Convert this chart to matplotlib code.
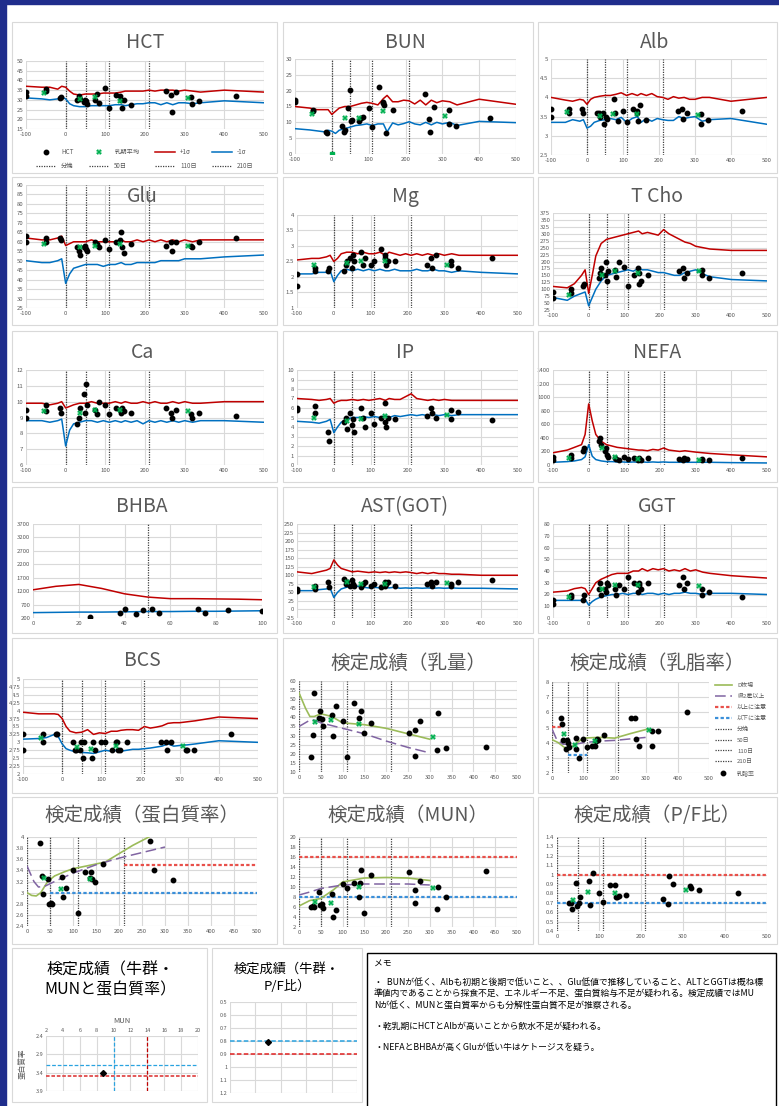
import numpy as np
import matplotlib
matplotlib.use("Agg")
import matplotlib.pyplot as plt
from matplotlib.patches import Rectangle
from matplotlib.lines import Line2D

plt.rcParams['font.family'] = ['Noto Sans CJK JP', 'DejaVu Sans']

W, H = 779, 1106
GRAY = '#595959'
GRID = '#d9d9d9'
RED = '#c00000'
BLUE = '#0070c0'
GREEN = '#00b050'

# days in milk of each blood sample (shared by the blood panels)
dim = [-100, -100, -50, -50, -15, -12, 28, 33, 35, 45, 48, 52, 55, 75, 78, 85,
       100, 110, 127, 138, 140, 142, 148, 165, 253, 265, 267, 277, 317, 318, 337, 430]
avg_day = [-55, 37, 73, 138, 308]
# days of the reference (+1σ / -1σ) curves
ref_day = [-100, -60, -40, -20, -10, 0, 10, 20, 35, 50, 65, 80, 95, 110, 125, 140, 150,
           165, 180, 195, 210, 225, 240, 255, 270, 285, 300, 320, 340, 400, 500]
milestones = [0, 50, 110, 210]

hct = [34, 32, 35.5, 34.8, 31, 31.5, 30, 32, 30.5, 29, 30, 29.5, 28, 30, 33, 28.5,
       36, 26, 32.5, 32, 30, 26, 30, 27.5, 34.5, 32.5, 24, 34, 31.5, 28, 29.5, 32]
hct_avg = [33.5, 30.5, 31.5, 29.5, 31]
hct_hi = [37, 36.5, 36.5, 35.5, 37, 36.5, 34.5, 33, 32.5, 33, 33, 33, 33.5, 33.5, 33.5, 34,
          34.5, 34.5, 34.5, 34.5, 35, 34.5, 35, 35, 35, 34.5, 35, 34.5, 34, 35, 34]
hct_lo = [31, 30.5, 30, 30.5, 31.5, 30.5, 28, 27, 26.5, 26.5, 27, 27, 27, 27, 27.5, 27.5,
          27, 27.5, 28, 28, 28.5, 28.5, 27.5, 28.5, 27.5, 28.5, 28.5, 28, 28.5, 29.5, 28.5]

bun = [17, 16.5, 13.5, 14, 7, 6.5, 9, 7, 7.5, 14.5, 20.3, 10.3, 10.8, 10.5, 11.5, 11.8,
       14.5, 8.5, 21.2, 16.5, 16, 15.5, 6.5, 13.8, 18.8, 11, 7, 14.8, 13.8, 9.5, 9, 11.5]
bun_avg = [12.5, 11.5, 11.5, 13.5, 12]
bun_hi = [15, 14.5, 14, 14, 14, 12.5, 13.5, 14.5, 15, 15, 15.5, 16, 16.3, 16, 15.5, 17.5,
          18.5, 16.5, 16.5, 17, 16.8, 15.8, 17, 15.5, 17, 16.2, 16.8, 16.5, 15.5, 17.3, 15.7]
bun_lo = [8, 7.6, 7.3, 7, 7.5, 7.2, 6.5, 7.5, 8, 8.5, 9, 9.2, 9.5, 9, 9.5, 9.5,
          7, 9.8, 9.2, 9.6, 10.2, 9.5, 9.2, 10, 9.2, 10, 9.5, 10, 9, 10.3, 9.9]

alb = [3.7, 3.5, 3.7, 3.6, 3.7, 3.6, 3.6, 3.6, 3.5, 3.6, 3.3, 3.5, 3.45, 3.95, 3.6, 3.38,
       3.65, 3.35, 3.7, 3.65, 3.6, 3.38, 3.8, 3.42, 3.65, 3.7, 3.45, 3.6, 3.58, 3.3, 3.42, 3.65]
alb_avg = [3.62, 3.52, 3.58, 3.58, 3.55]
alb_hi = [4.0, 3.93, 3.9, 3.95, 3.93, 3.82, 3.95, 4.0, 4.03, 4.05, 4.05, 4.08, 4.12, 4.05, 4.1, 4.05,
          4.1, 4.05, 4.1, 4.02, 4.0, 3.95, 4.02, 3.98, 4.0, 3.95, 3.95, 4.0, 4.0, 3.9, 4.0]
alb_lo = [3.35, 3.35, 3.42, 3.38, 3.42, 3.2, 3.25, 3.35, 3.4, 3.42, 3.45, 3.42, 3.48, 3.35, 3.45, 3.5,
          3.35, 3.45, 3.38, 3.45, 3.42, 3.4, 3.4, 3.5, 3.45, 3.48, 3.5, 3.38, 3.42, 3.45, 3.3]

glu = [63, 60, 62, 60, 62, 61, 57, 55, 53, 57, 58, 56, 55, 60, 59, 57,
       61, 56, 60, 61, 65, 57, 54, 59, 58, 60, 55, 60, 58, 57, 60, 62]
glu_avg = [59, 57, 58, 59, 58]
glu_hi = [62, 61, 61, 62, 63, 58, 59, 60, 60, 60, 61, 60, 60, 60, 60, 61,
          60, 60, 61, 60, 61, 60, 61, 60, 61, 60, 61, 60, 61, 61, 61]
glu_lo = [50, 49, 49, 50, 51, 38, 43, 46, 47, 48, 48, 48, 47, 48, 48, 49,
          48, 48, 49, 49, 49, 49, 50, 50, 50, 50, 51, 51, 51, 52, 53]

mg = [1.7, 2.1, 2.2, 2.3, 2.2, 2.3, 2.2, 2.4, 2.5, 2.6, 2.3, 2.7, 2.5, 2.8, 2.4, 2.6,
      2.4, 2.5, 2.9, 2.7, 2.6, 2.4, 2.5, 2.5, 2.4, 2.6, 2.3, 2.7, 2.4, 2.5, 2.3, 2.6]
mg_avg = [2.4, 2.45, 2.5, 2.5, 2.4]
mg_hi = [2.55, 2.6, 2.6, 2.65, 2.7, 2.5, 2.6, 2.75, 2.8, 2.8, 2.75, 2.8, 2.75, 2.75, 2.8, 2.7,
         2.8, 2.75, 2.7, 2.75, 2.7, 2.75, 2.7, 2.75, 2.7, 2.75, 2.7, 2.75, 2.7, 2.7, 2.7]
mg_lo = [2.1, 2.1, 2.15, 2.15, 2.2, 1.85, 2.05, 2.2, 2.25, 2.2, 2.25, 2.2, 2.25, 2.2, 2.25, 2.2,
         2.2, 2.25, 2.2, 2.2, 2.2, 2.25, 2.2, 2.2, 2.25, 2.2, 2.2, 2.15, 2.2, 2.15, 2.1]

tcho = [90, 70, 85, 100, 110, 120, 140, 160, 175, 150, 200, 130, 165, 170, 145, 200,
        180, 110, 150, 175, 160, 120, 130, 150, 165, 175, 140, 160, 170, 150, 140, 160]
tcho_avg = [80, 150, 165, 160, 165]
tcho_hi = [110, 105, 120, 150, 170, 85, 150, 220, 265, 280, 285, 290, 295, 300, 305, 310,
           300, 305, 300, 295, 315, 300, 290, 280, 270, 265, 255, 250, 245, 240, 240]
tcho_lo = [70, 60, 75, 85, 90, 40, 70, 100, 130, 150, 155, 160, 165, 170, 165, 175,
           170, 170, 165, 160, 160, 155, 150, 150, 160, 165, 170, 155, 145, 135, 130]

ca = [9.5, 9.0, 9.8, 9.4, 9.6, 9.3, 8.6, 9.0, 9.6, 10.5, 9.3, 11.1, 9.8, 9.5, 9.2, 10.0,
      9.8, 9.2, 9.6, 9.5, 9.3, 9.6, 9.4, 9.3, 9.6, 9.3, 9.0, 9.5, 9.2, 9.0, 9.3, 9.1]
ca_avg = [9.4, 9.3, 9.5, 9.5, 9.4]
ca_hi = [9.9, 9.9, 9.8, 9.9, 10, 9.6, 9.7, 9.8, 9.9, 9.9, 10, 9.9, 9.9, 9.9, 10, 9.9,
         10, 9.9, 9.9, 10, 9.9, 10, 9.9, 9.9, 10, 9.9, 10, 9.9, 9.9, 10, 10]
ca_lo = [8.8, 8.8, 8.7, 8.8, 8.9, 7.2, 8.2, 8.6, 8.7, 8.8, 8.8, 8.7, 8.8, 8.7, 8.8, 8.7,
         8.8, 8.7, 8.8, 8.6, 8.8, 8.7, 8.8, 8.7, 8.8, 8.7, 8.8, 8.7, 8.8, 8.8, 8.7]

ip = [6.0, 5.8, 5.5, 6.2, 3.5, 2.5, 4.5, 5.0, 3.8, 5.5, 4.2, 4.8, 3.5, 6.0, 5.0, 4.0,
      5.5, 4.3, 5.0, 4.5, 6.5, 4.0, 5.0, 4.8, 5.2, 6.0, 5.5, 5.0, 5.8, 4.8, 5.6, 4.7]
ip_avg = [5.0, 4.6, 4.8, 5.2, 5.3]
ip_hi = [7.0, 6.9, 6.8, 6.9, 7.0, 6.5, 6.7, 6.8, 6.8, 6.9, 6.8, 6.9, 6.8, 6.9, 7.0, 6.8,
         7.0, 6.9, 6.9, 7.2, 7.5, 7.0, 6.9, 6.8, 6.9, 6.8, 6.9, 6.8, 6.8, 6.8, 6.8]
ip_lo = [4.6, 4.5, 4.4, 4.6, 4.8, 3.4, 4.0, 4.5, 4.8, 5.0, 5.0, 5.1, 5.0, 5.1, 5.0, 5.2,
         5.0, 5.2, 5.1, 5.2, 5.3, 5.2, 5.3, 5.2, 5.3, 5.2, 5.3, 5.2, 5.3, 5.3, 5.3]

nefa = [120, 80, 100, 150, 200, 250, 350, 400, 300, 200, 250, 150, 120, 100, 90, 80,
        120, 90, 100, 80, 100, 90, 80, 100, 90, 80, 100, 90, 80, 90, 80, 100]
nefa_avg = [100, 250, 120, 90, 80]
nefa_hi = [180, 220, 260, 300, 450, 900, 650, 450, 350, 300, 280, 260, 250, 240, 230, 220,
           220, 210, 230, 220, 250, 220, 210, 200, 210, 200, 190, 180, 170, 150, 120]
nefa_lo = [40, 50, 60, 80, 120, 300, 130, 80, 60, 50, 50, 45, 45, 40, 45, 40,
           45, 40, 45, 40, 45, 40, 40, 40, 40, 40, 40, 40, 40, 35, 30]

ast = [60, 55, 60, 70, 80, 65, 90, 75, 80, 70, 85, 75, 70, 65, 75, 80,
       70, 75, 65, 80, 70, 75, 80, 70, 75, 80, 70, 80, 70, 75, 80, 85]
ast_avg = [65, 80, 75, 75, 78]
ast_hi = [110, 105, 110, 115, 120, 145, 130, 120, 115, 110, 112, 110, 108, 110, 108, 110,
          108, 110, 108, 110, 108, 105, 108, 105, 108, 105, 105, 103, 103, 100, 100]
ast_lo = [55, 55, 58, 60, 62, 35, 50, 60, 65, 70, 68, 65, 63, 65, 63, 65,
          63, 65, 62, 63, 62, 63, 62, 63, 62, 63, 62, 63, 62, 62, 60]

ggt = [15, 12, 20, 18, 15, 20, 25, 30, 20, 25, 22, 30, 28, 25, 20, 28,
       25, 35, 30, 22, 30, 28, 25, 30, 28, 35, 25, 30, 20, 25, 22, 18]
ggt_avg = [18, 25, 28, 28, 27]
ggt_hi = [22, 23, 25, 26, 25, 20, 25, 30, 33, 35, 37, 38, 38, 38, 40, 40,
          42, 40, 42, 41, 42, 40, 41, 40, 42, 40, 41, 39, 38, 36, 34]
ggt_lo = [15, 15, 15, 15, 16, 11, 14, 16, 18, 19, 20, 20, 21, 20, 21, 21,
          20, 21, 21, 20, 21, 20, 21, 21, 22, 21, 21, 20, 21, 21, 20]

bcs = [3.25, 2.75, 3.25, 3.0, 3.25, 3.25, 3.0, 2.75, 2.75, 2.75, 3.0, 2.5, 3.0, 2.5, 3.0, 2.75,
       3.0, 3.0, 2.75, 3.0, 3.0, 2.75, 2.75, 3.0, 3.0, 3.0, 2.75, 3.0, 2.75, 2.75, 2.75, 3.25]
bcs_avg = [3.15, 2.85, 2.8, 2.9, 2.9]
bcs_hi = [3.95, 3.9, 3.9, 3.9, 3.88, 3.75, 3.5, 3.35, 3.3, 3.32, 3.4, 3.25, 3.3, 3.28, 3.35, 3.35,
          3.38, 3.4, 3.4, 3.38, 3.5, 3.45, 3.48, 3.52, 3.6, 3.62, 3.62, 3.65, 3.68, 3.8, 3.75]
bcs_lo = [3.1, 3.12, 3.15, 3.25, 3.18, 2.95, 2.8, 2.75, 2.7, 2.68, 2.67, 2.65, 2.7, 2.75, 2.72, 2.75,
          2.72, 2.75, 2.78, 2.78, 2.8, 2.82, 2.85, 2.88, 2.95, 2.88, 2.9, 2.92, 2.95, 3.05, 3.0]

# BHBA is plotted on its own 0-100 day axis
bhba_day = [25, 38, 40, 45, 48, 52, 55, 72, 75, 85, 100]
bhba = [250, 400, 550, 350, 500, 550, 400, 550, 400, 500, 450]
bhba_ref_day = [0, 10, 20, 30, 40, 50, 60, 70, 80, 90, 100]
bhba_hi = [1250, 1380, 1450, 1300, 1100, 980, 920, 920, 910, 900, 880]
bhba_lo = [400, 410, 420, 420, 430, 440, 440, 450, 450, 460, 470]

# monthly milk test (days in milk)
test_day = [28, 33, 35, 45, 48, 52, 55, 75, 78, 85, 100, 110, 127, 138, 140, 142, 148, 165,
            253, 265, 267, 277, 317, 318, 337, 430]
test_avg_day = [37, 73, 138, 308]
nan = np.nan
milk = [18.5, 30.5, 53.5, 39.5, 43.5, 39, 35.5, 41.5, 30, 46, 38, 18, 48, 39.5, nan, 43.5, 31.5, 37,
        31.5, 19, 33, 38, 22, 42.5, 23, 23.5]
milk_avg = [37.5, 38.5, 36.5, 29.5]
fat = [5.6, 5.2, 4.2, 3.55, 4.2, 4.0, 3.7, 3.55, 4.3, 3.0, 4.25, 3.7, 3.8, 3.75, 4.1, 4.25, 4.15, 4.5,
       5.6, 5.65, 4.25, 3.8, 4.8, 3.8, 4.8, 6.05]
fat_avg = [4.6, 3.85, 4.1, 4.85]
protein = [3.9, 3.3, 2.98, 3.24, 2.8, 2.82, 2.8, 3.28, 2.92, 3.08, 3.4, 2.64, 3.37, 3.27, 3.37, 3.25,
           3.2, 3.52, nan, nan, 3.92, 3.4, 3.23, nan, nan, nan]
protein_avg = [3.26, 3.06, 3.24, nan]
mun = [6.1, 6.3, 6.1, 9.0, 6.5, 6.6, 5.8, 8.6, 4.1, 5.4, 10.7, 9.8, 10.8, 8.1, 10.9, 13.4, 4.9, 12.4,
       13.1, 6.8, 9.4, 11.3, 5.7, 10.1, 8.1, 13.2]
mun_avg = [7.0, 6.9, 10.1, 9.8]
pf = [0.7, 0.7, 0.63, 0.91, 0.67, 0.7, 0.76, 0.93, 0.68, 1.02, 0.8, 0.71, 0.89, 0.89, 0.76, 0.76,
      0.77, 0.78, 0.74, 0.69, 0.98, 0.9, 0.88, 0.86, 0.84, 0.8]
pf_avg = [0.73, 0.82, 0.8, 0.84]

# lactation curves: farm (D牧場) and prefecture 2nd+ parity (県2産以上)
milk_farm_day = [0, 15, 25, 35, 50, 75, 100, 150, 200, 250, 300]
milk_farm = [53.5, 45, 40.5, 40.5, 42, 40.5, 37, 36, 34, 31, 28]
milk_pref_day = [0, 25, 35, 50, 100, 150, 200, 250, 300]
milk_pref = [35, 38.5, 38.5, 37, 34, 31, 27, 23.5, 20.5]
fat_farm_day = [0, 20, 45, 55, 80, 100, 150, 200, 250, 305]
fat_farm = [4.2, 4.0, 3.6, 3.6, 4.0, 4.3, 4.35, 4.3, 4.6, 4.9]
fat_pref_day = [0, 15, 35, 75, 100, 150, 200, 250, 300]
fat_pref = [4.9, 4.2, 3.9, 3.9, 4.0, 4.1, 4.15, 4.25, 4.35]
prot_farm_day = [0, 10, 20, 30, 45, 60, 80, 100, 130, 170, 200, 230, 265]
prot_farm = [3.0, 2.95, 2.94, 3.0, 3.2, 3.3, 3.37, 3.43, 3.48, 3.55, 3.7, 3.85, 4.0]
prot_pref_day = [0, 15, 25, 40, 60, 100, 150, 200, 250, 300]
prot_pref = [3.48, 3.2, 3.1, 3.12, 3.2, 3.35, 3.5, 3.62, 3.72, 3.82]
mun_farm_day = [0, 25, 50, 80, 100, 150, 200, 250, 300]
mun_farm = [6.2, 7.3, 7.7, 9.5, 11, 11.8, 11.9, 11.8, 11.3]
mun_pref_day = [0, 25, 50, 100, 150, 200, 250, 300]
mun_pref = [8.4, 9, 9.7, 10.4, 10.6, 10.6, 10.6, 10.4]

# herd averages
herd_mun, herd_protein = 8.7, 3.42
herd_pf = 0.81

fig = plt.figure(figsize=(W / 100, H / 100), dpi=100)
fig.patch.set_facecolor('white')


def px_axes(x0, y0, x1, y1):
    return fig.add_axes([x0 / W, 1 - y1 / H, (x1 - x0) / W, (y1 - y0) / H])


def box(x0, y0, x1, y1, color=GRID, lw=0.8):
    fig.patches.append(Rectangle((x0 / W, 1 - y1 / H), (x1 - x0) / W, (y1 - y0) / H,
                                 transform=fig.transFigure, fill=False, edgecolor=color, lw=lw))


def title(xc, y, text, size=14, color=GRAY):
    fig.text(xc / W, 1 - y / H, text, ha='center', va='center', fontsize=size, color=color)


def excel_axes(ax, xlim, xticks, ylim, yticks, fs=4.3):
    ax.set_xlim(*xlim)
    ax.set_ylim(*ylim)
    ax.set_xticks(xticks)
    ax.set_yticks(yticks)
    ax.set_xticklabels([f'{t:g}' for t in xticks])
    ax.set_yticklabels([f'{t:g}' for t in yticks])
    for s in ax.spines.values():
        s.set_visible(False)
    ax.grid(True, color=GRID, lw=0.8)
    ax.set_axisbelow(True)
    ax.tick_params(length=0, labelsize=fs, labelcolor=GRAY, pad=2)
    ax.patch.set_alpha(0)


def milestone_lines(ax):
    for d in milestones:
        ax.axvline(d, color='#404040', ls=(0, (1, 1)), lw=0.9, zorder=2)


def blood_panel(px, ylim, ystep, pts, avg, hi, lo, extra=None):
    ax = px_axes(*px)
    yt = np.arange(ylim[0], ylim[1] + ystep / 2, ystep)
    excel_axes(ax, (-100, 500), range(-100, 501, 100), ylim, yt)
    milestone_lines(ax)
    ax.plot(ref_day, hi, color=RED, lw=1.1, zorder=3)
    ax.plot(ref_day, lo, color=BLUE, lw=1.1, zorder=3)
    ax.plot(dim, pts, 'o', color='black', ms=3.2, zorder=4)
    ax.plot(avg_day, avg, 'X', color=GREEN, ms=4, mew=0, zorder=5)
    if extra is not None:
        ax.plot(*extra, 's', color=GREEN, ms=3, zorder=5)
    return ax


# frame of the sheet
fig.patches.append(Rectangle((0, 0), 6 / W, 1, transform=fig.transFigure, color='#1f2d8c'))
fig.patches.append(Rectangle((0, 1 - 4 / H), 1, 4 / H, transform=fig.transFigure, color='#1f2d8c'))

cols = [(12, 277), (283, 533), (538, 777)]
rows = [(22, 173), (177, 325), (331, 482), (487, 633), (638, 793), (797, 944)]
for r in rows:
    for c in cols:
        box(c[0], r[0], c[1], r[1])
box(12, 948, 207, 1102)
box(212, 948, 362, 1102)

# row 1
ax = blood_panel((26, 61, 264, 129), (15, 50), 5, hct, hct_avg, hct_hi, hct_lo)
title(145, 43, 'HCT')
handles = [
    Line2D([], [], ls='none', marker='o', color='black', ms=3.2),
    Line2D([], [], color='#404040', ls=(0, (1, 1)), lw=0.9),
    Line2D([], [], ls='none', marker='X', color=GREEN, ms=4, mew=0),
    Line2D([], [], color='#404040', ls=(0, (1, 1)), lw=0.9),
    Line2D([], [], color=RED, lw=1.1),
    Line2D([], [], color='#404040', ls=(0, (1, 1)), lw=0.9),
    Line2D([], [], color=BLUE, lw=1.1),
    Line2D([], [], color='#404040', ls=(0, (1, 1)), lw=0.9),
]
labels = ['HCT', '分娩', '乳期平均', '50日', '+1σ', '110日', '-1σ', '210日']
leg = ax.legend(handles, labels, ncol=4, loc='upper center', bbox_to_anchor=(0.5, -0.2),
                frameon=False, fontsize=4.5, handlelength=3.2, columnspacing=2.5,
                labelspacing=0.9)
for t in leg.get_texts():
    t.set_color(GRAY)

blood_panel((295, 59, 516, 154), (0, 30), 5, bun, bun_avg, bun_hi, bun_lo, extra=([0], [0]))
title(405, 42, 'BUN')
blood_panel((551, 59, 767, 155), (2.5, 5), 0.5, alb, alb_avg, alb_hi, alb_lo)
title(655, 42, 'Alb')

# row 2
blood_panel((26, 185, 264, 308), (25, 90), 5, glu, glu_avg, glu_hi, glu_lo)
title(142, 196, 'Glu')
blood_panel((297, 215, 518, 308), (1, 4), 0.5, mg, mg_avg, mg_hi, mg_lo)
title(405, 196, 'Mg')
blood_panel((553, 213, 767, 310), (25, 375), 25, tcho, tcho_avg, tcho_hi, tcho_lo)
title(657, 196, 'T Cho')

# row 3
blood_panel((26, 370, 264, 465), (6, 12), 1, ca, ca_avg, ca_hi, ca_lo)
title(142, 352, 'Ca')
blood_panel((297, 370, 518, 465), (0, 10), 1, ip, ip_avg, ip_hi, ip_lo)
title(405, 352, 'IP')
blood_panel((553, 370, 767, 465), (0, 1400), 200, nefa, nefa_avg, nefa_hi, nefa_lo)
title(657, 352, 'NEFA')

# row 4
ax = px_axes(33, 524, 262, 618)
excel_axes(ax, (0, 100), range(0, 101, 20), (200, 3700), range(200, 3701, 500))
ax.axvline(50, color='#404040', ls=(0, (1, 1)), lw=0.9)
ax.plot(bhba_ref_day, bhba_hi, color=RED, lw=1.1)
ax.plot(bhba_ref_day, bhba_lo, color=BLUE, lw=1.1)
ax.plot(bhba_day, bhba, 'o', color='black', ms=3.2)
title(142, 507, 'BHBA')
blood_panel((297, 524, 518, 618), (-25, 250), 25, ast, ast_avg, ast_hi, ast_lo)
title(405, 507, 'AST(GOT)')
blood_panel((553, 524, 767, 618), (0, 80), 10, ggt, ggt_avg, ggt_hi, ggt_lo)
title(657, 507, 'GGT')

# row 5
blood_panel((23, 679, 258, 774), (2, 5), 0.25, bcs, bcs_avg, bcs_hi, bcs_lo)
title(142, 660, 'BCS')


def test_panel(px, xstep, ylim, ystep, pts, avg, farm=None, pref=None, hi=None, lo=None):
    ax = px_axes(*px)
    yt = np.arange(ylim[0], ylim[1] + ystep / 2, ystep)
    excel_axes(ax, (0, 500), range(0, 501, xstep), ylim, yt)
    milestone_lines(ax)
    if hi is not None:
        ax.plot(hi[0], [hi[1]] * len(hi[0]), color='#e8504a', ls=(0, (1.5, 1)), lw=1.6, zorder=3)
    if lo is not None:
        ax.plot(lo[0], [lo[1]] * len(lo[0]), color='#3a8fd9', ls=(0, (1.5, 1)), lw=1.6, zorder=3)
    if farm is not None:
        ax.plot(*farm, color='#9bbb59', lw=1.2, zorder=3)
    if pref is not None:
        ax.plot(*pref, color='#8064a2', lw=1.1, dashes=(7, 3), zorder=3)
    ax.plot(test_day, pts, 'o', color='black', ms=3.2, zorder=4)
    ax.plot(test_avg_day, avg, 'X', color=GREEN, ms=4, mew=0, zorder=5)
    return ax


test_panel((299, 681, 517, 772), 50, (10, 60), 5, milk, milk_avg,
           farm=(milk_farm_day, milk_farm), pref=(milk_pref_day, milk_pref))
title(408, 663, '検定成績（乳量）')

ax = test_panel((552, 682, 709, 773), 100, (2, 8), 1, fat, fat_avg,
                farm=(fat_farm_day, fat_farm), pref=(fat_pref_day, fat_pref),
                hi=([0, 30], 5.0), lo=([50, 110], 3.2))
title(657, 663, '検定成績（乳脂率）')
dot = dict(color='#404040', ls=(0, (1, 1)), lw=0.9)
handles = [
    Line2D([], [], color='#9bbb59', lw=1.2),
    Line2D([], [], color='#8064a2', lw=1.1, dashes=(7, 3)),
    Line2D([], [], color='#e8504a', ls=(0, (1.5, 1)), lw=1.6),
    Line2D([], [], color='#3a8fd9', ls=(0, (1.5, 1)), lw=1.6),
    Line2D([], [], **dot), Line2D([], [], **dot), Line2D([], [], **dot), Line2D([], [], **dot),
    Line2D([], [], ls='none', marker='o', color='black', ms=3.2),
]
labels = ['D牧場', '県2産以上', '以上に注意', '以下に注意', '分娩', '50日', '110日', '210日', '乳脂率']
leg = ax.legend(handles, labels, loc='upper left', bbox_to_anchor=(1.02, 1.02), frameon=False,
                fontsize=4.3, handlelength=3.0, labelspacing=0.95, borderaxespad=0)
for t in leg.get_texts():
    t.set_color(GRAY)

# row 6
test_panel((27, 837, 257, 926), 50, (2.4, 4.0), 0.2, protein, protein_avg,
           farm=(prot_farm_day, prot_farm), pref=(prot_pref_day, prot_pref),
           hi=([210, 500], 3.5), lo=([50, 500], 3.0))
title(142, 815, '検定成績（蛋白質率）')
test_panel((299, 837, 517, 927), 50, (2, 20), 2, mun, mun_avg,
           farm=(mun_farm_day, mun_farm), pref=(mun_pref_day, mun_pref),
           hi=([0, 500], 16), lo=([0, 500], 8))
title(408, 815, '検定成績（MUN）')
test_panel((557, 837, 767, 931), 100, (0.4, 1.4), 0.1, pf, pf_avg,
           hi=([0, 500], 1.0), lo=([0, 500], 0.7))
title(657, 815, '検定成績（P/F比）')

# row 7: herd scatter of MUN vs protein
ax = px_axes(46, 1036, 198, 1091)
excel_axes(ax, (2, 20), range(2, 21, 2), (2.4, 3.9), [2.4, 2.9, 3.4, 3.9], fs=4)
ax.invert_yaxis()
ax.xaxis.tick_top()
ax.axvline(10, color='#29a3e0', ls=(0, (3, 1.5)), lw=0.9)
ax.axvline(14, color='#c00000', ls=(0, (3, 1.5)), lw=0.9)
ax.axhline(3.2, color='#29a3e0', ls=(0, (3, 1.5)), lw=0.9)
ax.axhline(3.5, color='#e04a4a', ls=(0, (2, 1)), lw=1.3)
ax.plot([herd_mun], [herd_protein], 'D', color='black', ms=3)
ax.set_xlabel('MUN', fontsize=5.5, color=GRAY, labelpad=4)
ax.xaxis.set_label_position('top')
ax.set_ylabel('蛋白質率', fontsize=5.5, color=GRAY, labelpad=6)
title(110, 970, '検定成績（牛群・', size=11.5, color='black')
title(110, 990, 'MUNと蛋白質率）', size=11.5, color='black')

ax = px_axes(230, 1002, 357, 1093)
excel_axes(ax, (0, 5), range(0, 6), (0.5, 1.2), np.arange(0.5, 1.21, 0.1), fs=4)
ax.invert_yaxis()
ax.set_xticklabels([])
ax.axhline(0.8, color='#29a3e0', ls=(0, (3, 1.5)), lw=1.1)
ax.axhline(0.9, color='#e02020', ls=(0, (3, 1.5)), lw=1.1)
ax.plot([1.5], [herd_pf], 'D', color='black', ms=3)
title(287, 969, '検定成績（牛群・', size=9.5, color='black')
title(287, 986, 'P/F比）', size=9.5, color='black')

# memo
box(367, 953, 776, 1110, color='black', lw=1)
memo = [
    (963, 'メモ'),
    (982, '・  BUNが低く、Albも初期と後期で低いこと、、Glu低値で推移していること、ALTとGGTは概ね標'),
    (994, '準値内であることから採食不足、エネルギー不足、蛋白質給与不足が疑われる。検定成績ではMU'),
    (1006, 'Nが低く、MUNと蛋白質率からも分解性蛋白質不足が推察される。'),
    (1026, '・乾乳期にHCTとAlbが高いことから飲水不足が疑われる。'),
    (1047, '・NEFAとBHBAが高くGluが低い牛はケトージスを疑う。'),
]
for y, s in memo:
    fig.text(374 / W, 1 - y / H, s, fontsize=6.35, va='center', ha='left', color='black')

fig.savefig('out.png', dpi=100)
